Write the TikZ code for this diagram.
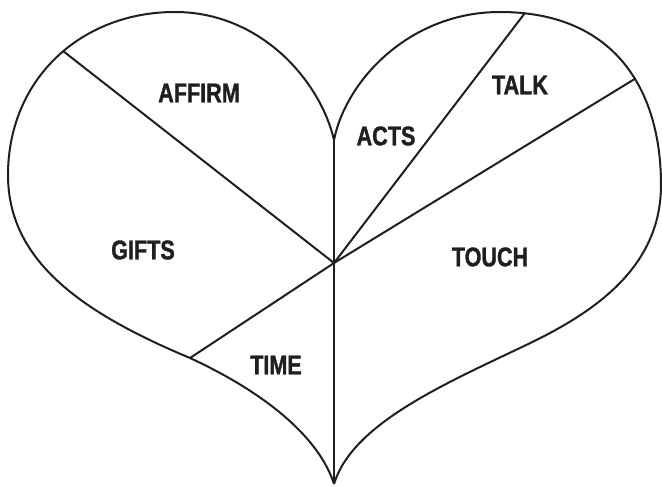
\documentclass[tikz,border=0pt]{standalone}
\usepackage{fontspec}
\setmainfont{Liberation Sans}[FakeStretch=0.80, BoldFeatures={FakeBold=1.2}]

\begin{document}
\begin{tikzpicture}[x=1pt, y=-1pt,
  borde/.style={draw=black!88, line width=2pt, line join=round},
  linea/.style={draw=black!88, line width=2pt},
  etiqueta/.style={font=\bfseries\fontsize{27}{29}\selectfont, text=black!88, inner sep=0pt}]
  \useasboundingbox (0,0) rectangle (662,487);
  % contorno del corazon
  \coordinate (punta)  at (334,484);
  \coordinate (hueco)  at (334,140);
  \coordinate (centro) at (334,263);
  \draw[borde] (punta) .. controls (320,440) and (270,395) .. (190,358) coordinate (bajoizq)
    .. controls (80,312) and (8,260) .. (8,175)
    .. controls (8,80) and (80,12) .. coordinate[pos=0.54] (altoizq) (175,12)
    .. controls (260,12) and (320,80) .. (hueco)
    .. controls (346,80) and (410,12) .. (500,12)
    .. controls (615,12) and (661,90) .. coordinate[pos=0.075] (altoder) coordinate[pos=0.58] (lado) (661,185)
    .. controls (661,270) and (590,315) .. (522,347)
    .. controls (440,386) and (352,425) .. (punta);
  % divisiones
  \draw[linea] (hueco) -- (punta);
  \draw[linea] (centro) -- (altoizq);
  \draw[linea] (centro) -- (bajoizq);
  \draw[linea] (centro) -- (altoder);
  \draw[linea] (centro) -- (lado);
  % etiquetas
  \node[etiqueta] (affirm) at (199,93)  {AFFIRM};
  \node[etiqueta] (acts)   at (386,136) {ACTS};
  \node[etiqueta] (talk)   at (520,85)  {TALK};
  \node[etiqueta] (gifts)  at (143,250) {GIFTS};
  \node[etiqueta] (touch)  at (490,257) {TOUCH};
  \node[etiqueta] (time)   at (276,365) {TIME};
\end{tikzpicture}
\end{document}
